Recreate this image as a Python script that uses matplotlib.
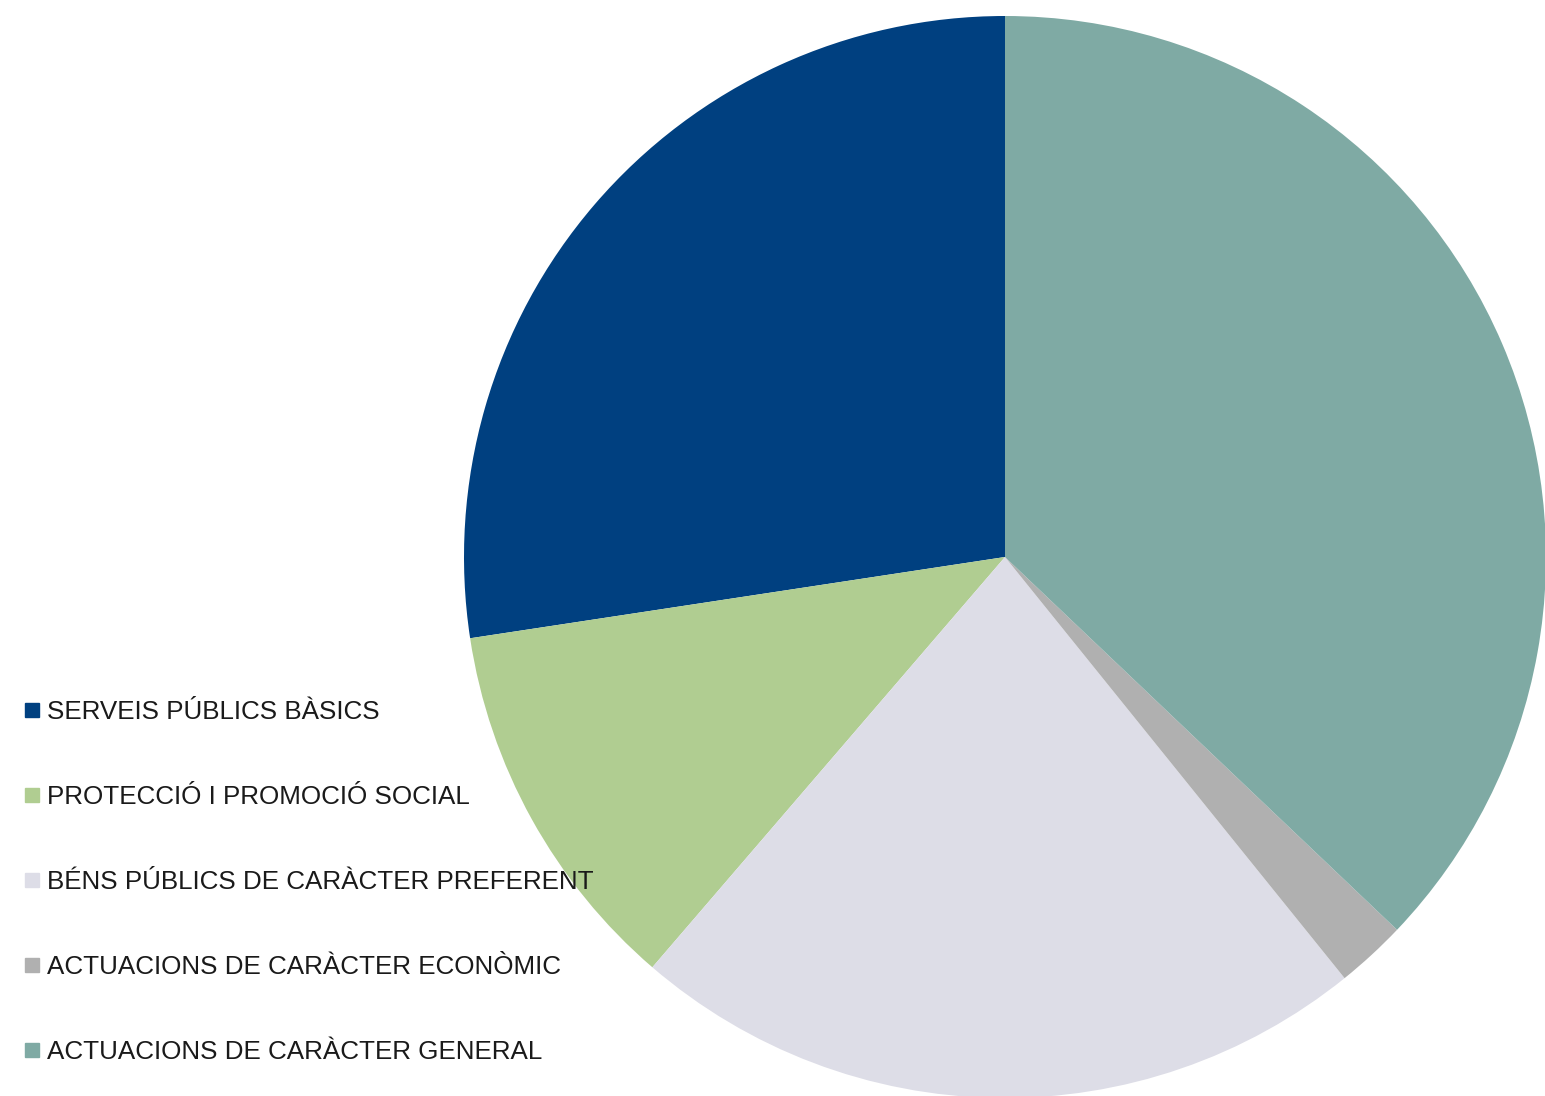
import matplotlib.pyplot as plt
from matplotlib.lines import Line2D

labels = [
    "SERVEIS PÚBLICS BÀSICS",
    "PROTECCIÓ I PROMOCIÓ SOCIAL",
    "BÉNS PÚBLICS DE CARÀCTER PREFERENT",
    "ACTUACIONS DE CARÀCTER ECONÒMIC",
    "ACTUACIONS DE CARÀCTER GENERAL",
]
values = [27.4, 11.3, 22.1, 2.1, 37.1]
colors = ["#004080", "#b0cd91", "#dddde7", "#b0b0b0", "#7faaa4"]

plt.rcParams["font.family"] = ["Liberation Sans", "DejaVu Sans"]

W, H = 1545, 1096
fig = plt.figure(figsize=(W / 100, H / 100), dpi=100)

# pie centred at (1005, 557) px, radius 541 px
cx, cy, r = 1005, 557, 541
ax = fig.add_axes([(cx - r) / W, (H - cy - r) / H, 2 * r / W, 2 * r / H])
ax.pie(values, colors=colors, startangle=90, counterclock=True, radius=1,
       wedgeprops=dict(linewidth=0))
ax.set_xlim(-1, 1)
ax.set_ylim(-1, 1)
ax.set_aspect("equal")
ax.axis("off")

handles = [Line2D([], [], marker="s", linestyle="none", markersize=9.5,
                  markerfacecolor=c, markeredgecolor=c) for c in colors]
fig.legend(handles, labels, loc="upper left",
           bbox_to_anchor=(12 / W, 1 - 687 / H), frameon=False,
           fontsize=18.7, labelspacing=2.35, handlelength=0.55,
           handletextpad=0.3, borderpad=0, labelcolor="#1a1a1a")

fig.savefig("out.png", dpi=100)
